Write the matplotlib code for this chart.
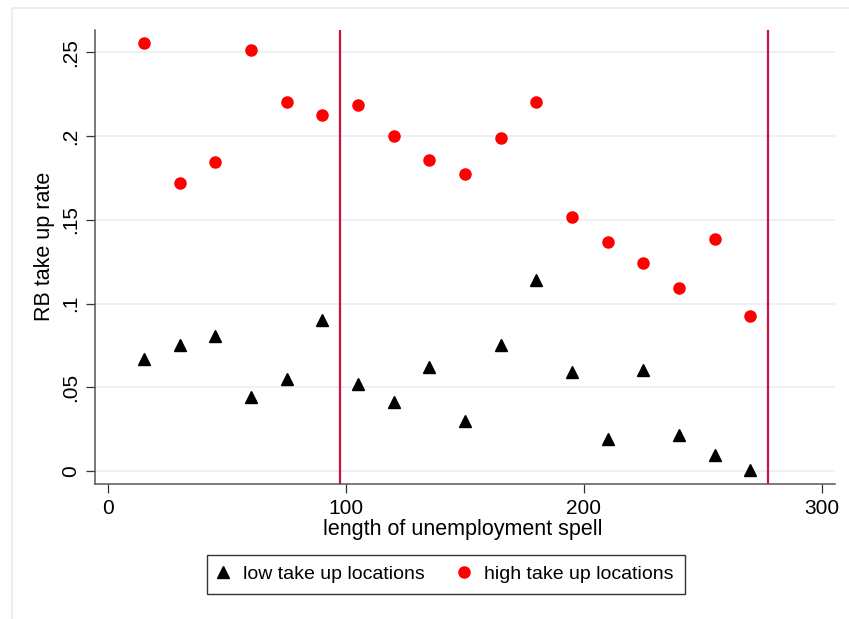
import matplotlib.pyplot as plt
from matplotlib.patches import Rectangle

plt.rcParams['font.family'] = ['Liberation Sans', 'DejaVu Sans']

# Days of unemployment (bins) and take-up rates
spell = [15, 30, 45, 60, 75, 90, 105, 120, 135, 150, 165, 180, 195, 210, 225, 240, 255, 270]
low_takeup = [0.0666, 0.0754, 0.0805, 0.0441, 0.0552, 0.0899, 0.0521, 0.0409, 0.0621,
              0.0301, 0.0755, 0.1138, 0.0593, 0.0189, 0.0603, 0.0212, 0.0093, 0.0005]
high_takeup = [0.2559, 0.1719, 0.1848, 0.2513, 0.2204, 0.2127, 0.2186, 0.2001, 0.1860,
               0.1774, 0.1987, 0.2204, 0.1517, 0.1370, 0.1241, 0.1091, 0.1384, 0.0928]
cutoffs = [97.5, 277.5]
yticks = [0, 0.05, 0.1, 0.15, 0.2, 0.25]
ytick_labels = ['0', '.05', '.1', '.15', '.2', '.25']
xticks = [0, 100, 200, 300]

fig = plt.figure(figsize=(8.49, 6.19), dpi=100)
fig.patches.append(Rectangle((12 / 849, -0.1), 1.2, 1.1 - 8 / 619, transform=fig.transFigure,
                             fill=False, edgecolor='#e6eef0', linewidth=1.2))

ax = fig.add_axes([95 / 849, 1 - 484 / 619, 740 / 849, 454 / 619])

for y in yticks:
    ax.axhline(y, color='#eaf1f3', linewidth=1.3, zorder=0)
for c in cutoffs:
    ax.axvline(c, color='#cf1040', linewidth=1.6, zorder=1)

ax.plot(spell, low_takeup, linestyle='none', marker='^', markersize=9,
        color='black', label='low take up locations', zorder=3)
ax.plot(spell, high_takeup, linestyle='none', marker='o', markersize=8,
        color='#ff0000', label='high take up locations', zorder=3)

ax.set_xlim(-5.6, 305.6)
ax.set_ylim(-0.0078, 0.2634)
ax.set_xticks(xticks)
ax.set_yticks(yticks)
ax.set_yticklabels(ytick_labels, rotation=90, va='center')
ax.tick_params(axis='both', labelsize=15, length=6.5, width=0.9, color='#333333', pad=4)

for s in ['top', 'right']:
    ax.spines[s].set_visible(False)
for s in ['left', 'bottom']:
    ax.spines[s].set_color('#555555')
    ax.spines[s].set_linewidth(1.1)

# axis titles placed in axes-fraction coordinates
ax.set_xlabel('length of unemployment spell', fontsize=15.5)
ax.xaxis.set_label_coords((463 - 95) / 740, -(519 - 484) / 454)
ax.set_ylabel('RB take up rate', fontsize=15.5)
ax.yaxis.set_label_coords(-(95 - 55) / 740, (484 - 246) / 454)

leg = fig.legend(loc='center', bbox_to_anchor=(446 / 849, 1 - 574 / 619), ncol=2,
                 fontsize=14, frameon=True, fancybox=False, edgecolor='black',
                 handlelength=0.5, handletextpad=0.8, columnspacing=1.75,
                 borderpad=0.55, markerscale=1.0)
leg.get_frame().set_linewidth(1.0)

fig.savefig('out.png', dpi=100)
